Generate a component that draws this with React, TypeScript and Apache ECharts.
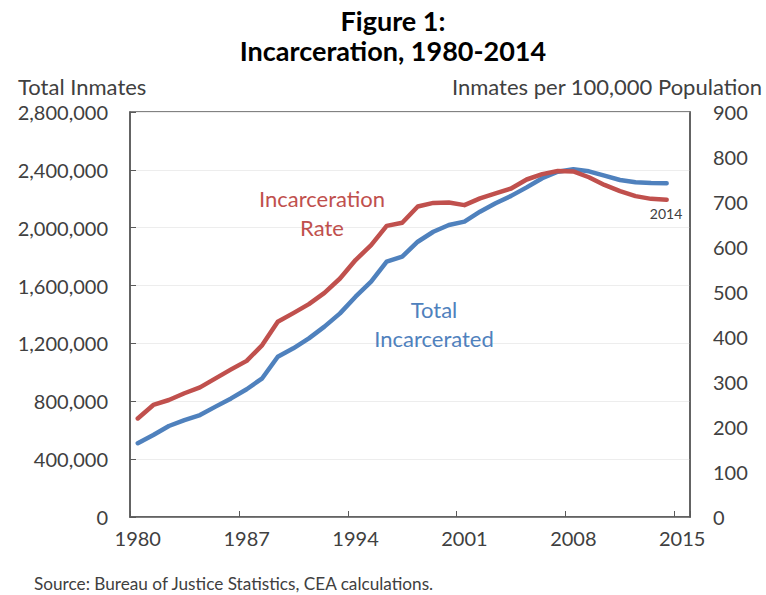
import React, { useEffect, useRef } from "react";
import * as echarts from "echarts";

const years: string[] = [];
for (let y = 1980; y <= 2015; y++) years.push(String(y));

// Total incarcerated (left axis), 1980-2014
const totalIncarcerated = [
  510000, 567000, 629000, 670000, 705000, 763000, 820000, 883000, 959000, 1108000,
  1166000, 1235000, 1316000, 1408000, 1523000, 1627000, 1765000, 1800000, 1903000, 1972000,
  2019000, 2042000, 2111000, 2169000, 2220000, 2279000, 2342000, 2387000, 2404000, 2390000,
  2360000, 2330000, 2314000, 2309000, 2307000,
];

// Incarceration rate per 100,000 (right axis), 1980-2014
const incarcerationRate = [
  219, 249, 260, 275, 288, 308, 328, 347, 382, 434,
  453, 473, 498, 530, 571, 604, 647, 654, 690, 698,
  699, 693, 708, 719, 730, 750, 762, 769, 768, 755,
  738, 724, 713, 707, 705,
];

const leftTicks = { min: 0, max: 2800000, interval: 400000 };
const rightTicks = { min: 0, max: 900, interval: 100 };

const FONT = "Lato, 'Open Sans', sans-serif";
const TXT = "#404040";
const AXIS = "#5a5a5a";
const RED = "#C0504D";
const BLUE = "#4F81BD";

export default function App() {
  const ref = useRef<HTMLDivElement>(null);
  useEffect(() => {
    if (!ref.current) return;
    const chart = echarts.init(ref.current, undefined, { renderer: "svg" });
    chart.setOption({
      animation: false,
      backgroundColor: "#ffffff",
      textStyle: { fontFamily: FONT },
      grid: {
        left: 130,
        right: 76,
        top: 112,
        bottom: 78,
        show: true,
        borderColor: AXIS,
        borderWidth: 1.5,
        backgroundColor: "transparent",
      },
      xAxis: {
        type: "category",
        data: years,
        boundaryGap: true,
        axisLine: { show: true, lineStyle: { color: AXIS, width: 1.5 } },
        axisTick: {
          show: true,
          inside: true,
          interval: 6,
          length: 6,
          lineStyle: { color: AXIS, width: 1 },
        },
        axisLabel: {
          interval: 6,
          color: TXT,
          fontSize: 20,
          fontFamily: FONT,
          margin: 11,
        },
        splitLine: { show: false },
      },
      yAxis: [
        {
          type: "value",
          min: leftTicks.min,
          max: leftTicks.max,
          interval: leftTicks.interval,
          position: "left",
          axisLine: { show: true, lineStyle: { color: AXIS, width: 1.5 } },
          axisTick: { show: true, inside: true, length: 6, lineStyle: { color: AXIS } },
          axisLabel: {
            color: TXT,
            fontSize: 20,
            fontFamily: FONT,
            margin: 22,
            formatter: (v: number) => v.toLocaleString("en-US"),
          },
          splitLine: { show: true, lineStyle: { color: "#ededed", width: 1 } },
        },
        {
          type: "value",
          min: rightTicks.min,
          max: rightTicks.max,
          interval: rightTicks.interval,
          position: "right",
          axisLine: { show: true, lineStyle: { color: AXIS, width: 1.5 } },
          axisTick: { show: false },
          axisLabel: {
            color: TXT,
            fontSize: 20,
            fontFamily: FONT,
            margin: 23,
          },
          splitLine: { show: false },
        },
      ],
      series: [
        {
          name: "Total Incarcerated",
          type: "line",
          yAxisIndex: 0,
          data: totalIncarcerated,
          showSymbol: false,
          symbol: "none",
          lineStyle: { color: BLUE, width: 4.5, cap: "round", join: "round" },
          itemStyle: { color: BLUE },
        },
        {
          name: "Incarceration Rate",
          type: "line",
          yAxisIndex: 1,
          data: incarcerationRate,
          showSymbol: false,
          symbol: "none",
          lineStyle: { color: RED, width: 4.5, cap: "round", join: "round" },
          itemStyle: { color: RED },
        },
      ],
      graphic: [
        {
          type: "text",
          x: 393,
          y: 5,
          z: 100,
          style: {
            text: "Figure 1:\nIncarceration, 1980-2014",
            font: `bold 27px ${FONT}`,
            fill: "#000000",
            textAlign: "center",
            lineHeight: 30,
          },
        },
        {
          type: "text",
          x: 18,
          y: 86,
          z: 100,
          style: {
            text: "Total Inmates",
            font: `22px ${FONT}`,
            fill: TXT,
            textAlign: "left",
            textVerticalAlign: "middle",
          },
        },
        {
          type: "text",
          x: 762,
          y: 86,
          z: 100,
          style: {
            text: "Inmates per 100,000 Population",
            font: `22px ${FONT}`,
            fill: TXT,
            textAlign: "right",
            textVerticalAlign: "middle",
          },
        },
        {
          type: "text",
          x: 322,
          y: 213,
          z: 100,
          style: {
            text: "Incarceration\nRate",
            font: `22px ${FONT}`,
            fill: RED,
            textAlign: "center",
            textVerticalAlign: "middle",
            lineHeight: 29,
          },
        },
        {
          type: "text",
          x: 434,
          y: 324,
          z: 100,
          style: {
            text: "Total\nIncarcerated",
            font: `22px ${FONT}`,
            fill: BLUE,
            textAlign: "center",
            textVerticalAlign: "middle",
            lineHeight: 29,
          },
        },
        {
          type: "text",
          x: 666,
          y: 213,
          z: 100,
          style: {
            text: "2014",
            font: `14px ${FONT}`,
            fill: TXT,
            textAlign: "center",
            textVerticalAlign: "middle",
          },
        },
        {
          type: "text",
          x: 34,
          y: 583,
          z: 100,
          style: {
            text: "Source: Bureau of Justice Statistics, CEA calculations.",
            font: `17.2px ${FONT}`,
            fill: TXT,
            textAlign: "left",
            textVerticalAlign: "middle",
          },
        },
      ],
    });
    return () => chart.dispose();
  }, []);
  return (
    <div
      ref={ref}
      style={{ position: "fixed", left: 0, top: 0, width: 766, height: 595 }}
    />
  );
}
